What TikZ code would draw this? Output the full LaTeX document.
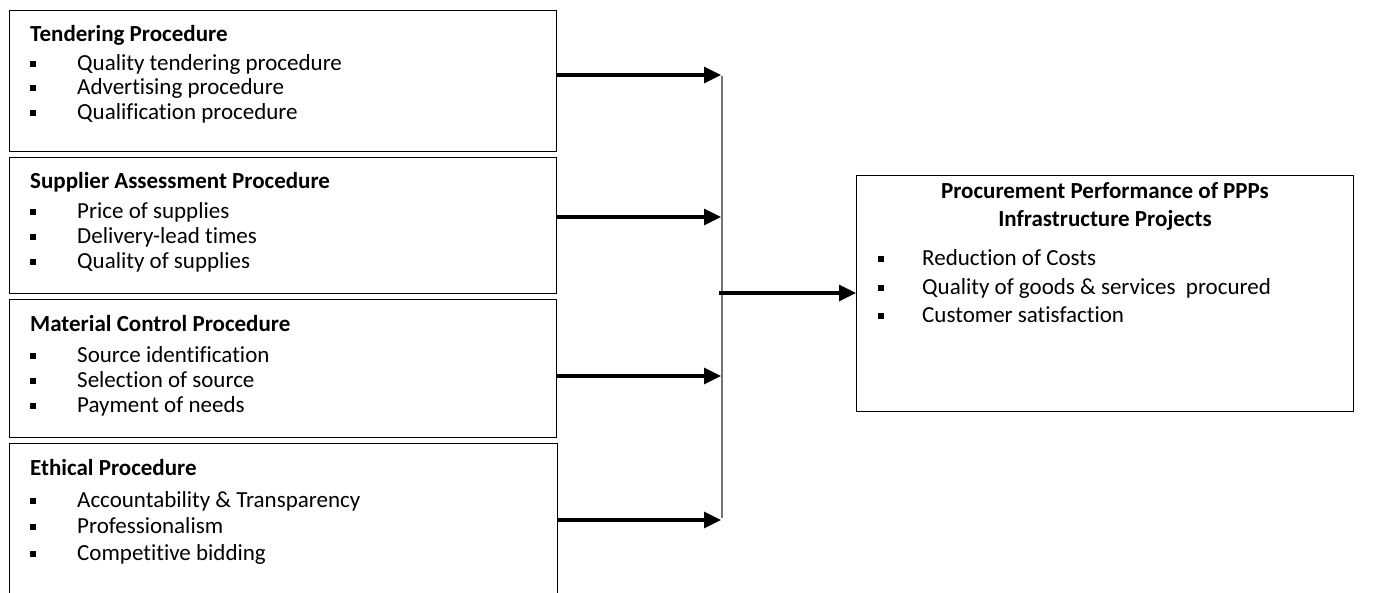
\documentclass[tikz,border=0pt]{standalone}
\usepackage{fontspec}
\setmainfont{Carlito}[Ligatures=NoCommon]
\usetikzlibrary{arrows.meta}
\tikzset{
  box/.style={draw=black, line width=1.3pt, rectangle, anchor=north west, inner sep=0pt},
  txt/.style={anchor=base west, inner sep=0pt, font=\fontsize{23}{25}\selectfont},
  ttl/.style={txt, font=\fontsize{23}{25}\selectfont\bfseries},
  bul/.style={fill=black, minimum size=6pt, inner sep=0pt, rectangle},
  arr/.style={line width=3.2pt, -{Triangle[length=17pt,width=16pt]}},
  vline/.style={draw=black!55, line width=1.3pt}
}
\begin{document}
\begin{tikzpicture}[x=1pt,y=-1pt]
\clip (0,0) rectangle (1380,592);
\fill[white] (0,0) rectangle (1380,592);

% Left boxes
\node[box, minimum width=547pt, minimum height=141pt] (b1) at (9,10) {};
\node[box, minimum width=547pt, minimum height=136pt] (b2) at (9,157) {};
\node[box, minimum width=547pt, minimum height=138pt] (b3) at (9,299) {};
\node[box, minimum width=548pt, minimum height=170pt] (b4) at (9,443) {};

% Box 1 text
\node[ttl] (t1) at (30,41) {Tendering Procedure};
\node[bul] (s11) at (32.5,63.5) {}; \node[txt] (l11) at (77,70) {Quality tendering procedure};
\node[bul] (s12) at (32.5,88) {};   \node[txt] (l12) at (77,94.5) {Advertising procedure};
\node[bul] (s13) at (32.5,112.5) {};\node[txt] (l13) at (77,119) {Qualification procedure};

% Box 2 text
\node[ttl] (t2) at (30,188) {Supplier Assessment Procedure};
\node[bul] (s21) at (32.5,211.5) {}; \node[txt] (l21) at (77,218) {Price of supplies};
\node[bul] (s22) at (32.5,236.5) {}; \node[txt] (l22) at (77,243) {Delivery-lead times};
\node[bul] (s23) at (32.5,261.5) {}; \node[txt] (l23) at (77,268) {Quality of supplies};

% Box 3 text
\node[ttl] (t3) at (30,331) {Material Control Procedure};
\node[bul] (s31) at (32.5,355.5) {}; \node[txt] (l31) at (77,362) {Source identification};
\node[bul] (s32) at (32.5,380.5) {}; \node[txt] (l32) at (77,387) {Selection of source};
\node[bul] (s33) at (32.5,405.5) {}; \node[txt] (l33) at (77,412) {Payment of needs};

% Box 4 text
\node[ttl] (t4) at (30,475) {Ethical Procedure};
\node[bul] (s41) at (32.5,500.5) {}; \node[txt] (l41) at (77,507) {Accountability \& Transparency};
\node[bul] (s42) at (32.5,526.5) {}; \node[txt] (l42) at (77,533) {Professionalism};
\node[bul] (s43) at (32.5,553.5) {}; \node[txt] (l43) at (77,560) {Competitive bidding};

% Right box
\node[box, minimum width=497pt, minimum height=236pt] (r) at (856,175) {};
\node[ttl, anchor=base] (rt1) at (1105,198) {Procurement Performance of PPPs};
\node[ttl, anchor=base] (rt2) at (1105,226) {Infrastructure Projects};
\node[bul] (rs1) at (881,259) {}; \node[txt] (rl1) at (922,265) {Reduction of Costs};
\node[bul] (rs2) at (881,288) {}; \node[txt] (rl2) at (922,294) {Quality of goods \& services\ \ procured};
\node[bul] (rs3) at (881,316) {}; \node[txt] (rl3) at (922,322) {Customer satisfaction};

% Connectors
\coordinate (j1) at (721,75);
\coordinate (j2) at (721,217);
\coordinate (j3) at (721,376);
\coordinate (j4) at (721,520);
\coordinate (vtop) at (722,76);
\coordinate (vbot) at (722,518);
\coordinate (jm) at (719,293);

\draw[vline] (vtop) -- (vbot);
\draw[arr] (b1.east |- j1) -- (j1);
\draw[arr] (b2.east |- j2) -- (j2);
\draw[arr] (b3.east |- j3) -- (j3);
\draw[arr] (b4.east |- j4) -- (j4);
\draw[arr] (jm) -- (r.west |- jm);
\end{tikzpicture}
\end{document}
